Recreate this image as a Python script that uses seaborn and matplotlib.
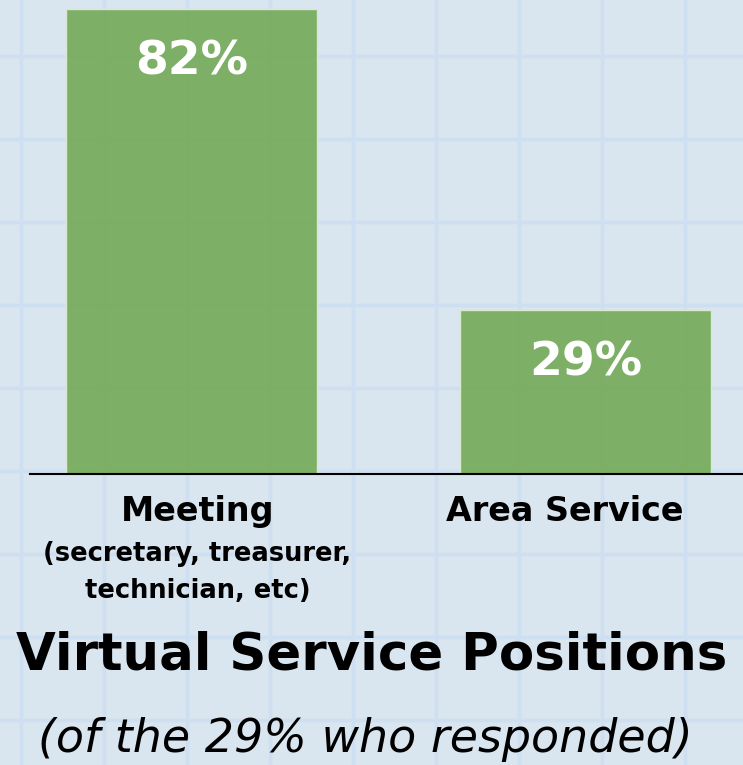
import numpy as np
import pandas as pd
import seaborn as sns
import matplotlib.pyplot as plt
import matplotlib.transforms as mtrans

categories = ['Meeting', 'Area Service']
subLabels = ['(secretary, treasurer,\ntechnician, etc)', '']
values = [82, 29]
title = 'Virtual Service Positions'
subtitle = '(of the 29% who responded)'

bgColor = '#d9e5ef'
gridColor = '#cddff0'
barColor = '#7aae62'

sns.set_theme(style='white')
plt.rcParams['font.family'] = ['DejaVu Sans']

W, H = 743, 765
fig = plt.figure(figsize=(W / 100, H / 100), dpi=100)
fig.patch.set_facecolor(bgColor)

# graph paper background
bg = fig.add_axes([0, 0, 1, 1], zorder=0)
bg.set_xlim(0, W)
bg.set_ylim(H, 0)
bg.set_facecolor(bgColor)
bg.set_xticks(np.arange(21, W, 83))
bg.set_yticks(np.arange(56, H, 83))
bg.grid(True, color=gridColor, linewidth=2.5)
bg.tick_params(length=0, labelbottom=False, labelleft=False)
for s in bg.spines.values():
    s.set_visible(False)

df = pd.DataFrame({'category': categories, 'value': values})

ax = fig.add_axes([30 / W, 1 - 474 / H, 1 - 30 / W, 474 / H], zorder=1)
ax.patch.set_alpha(0)
sns.barplot(data=df, x='category', y='value', color=barColor, saturation=1,
            width=0.636, edgecolor='#dcead4', linewidth=1, alpha=0.97, ax=ax)
ax.set_xlim(-0.41, 1.40)
ax.set_ylim(0, 83.6)
ax.set_xlabel('')
ax.set_ylabel('')
ax.set_yticks([])
ax.set_xticklabels([])
sns.despine(ax=ax, left=True, top=True, right=True)
ax.spines['bottom'].set_color('black')
ax.spines['bottom'].set_linewidth(1.5)
ax.tick_params(axis='x', length=0)

# category labels sit a little off the bar centres, as in the slide
labelShift = [6, -21]
for i, v in enumerate(values):
    ax.annotate(f'{v}%', (i, v), xytext=(0, -53), textcoords='offset pixels',
                ha='center', va='center', color='white', fontsize=34, fontweight='bold')
    tr = ax.get_xaxis_transform() + mtrans.ScaledTranslation(labelShift[i] / 100, 0, fig.dpi_scale_trans)
    ax.text(i, -0.045, categories[i], transform=tr, ha='center', va='top',
            fontsize=24, fontweight='bold', color='black')
    if subLabels[i]:
        ax.text(i, -0.142, subLabels[i], transform=tr,
                ha='center', va='top', fontsize=18.5, fontweight='bold',
                linespacing=1.55, color='black')

fig.text(0.5, 1 - 655 / H, title, ha='center', va='center', fontsize=37,
         fontweight='bold', color='black')
fig.text(365 / W, 1 - 740 / H, subtitle, ha='center', va='center', fontsize=33,
         fontstyle='italic', fontweight='light', color='black')

plt.savefig('out.png', dpi=100, facecolor=bgColor)
